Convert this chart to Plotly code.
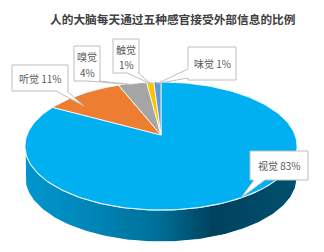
import math
import plotly.graph_objects as go

# ---- data ----
labels = ["视觉", "听觉", "嗅觉", "触觉", "味觉"]
values = [83, 11, 4, 1, 1]
title_text = "人的大脑每天通过五种感官接受外部信息的比例"

# ---- style ----
colors = ["#00B0F0", "#ED7D31", "#A5A5A5", "#FFC000", "#5B9BD5"]
side_scale = [[0.0, "#0096ce"], [0.27, "#0083b5"], [0.49, "#006f98"],
              [0.69, "#00425e"], [1.0, "#00506f"]]
W, H = 324, 252
CX, CY = 161, 135          # projected centre of the pie top
A, B, E = 62.1, 134.0, 0.172  # perspective projection params
DEPTH = 32

# label boxes: x0, x1, y0, y1, lines, wedge side, wedge base (a, b)
boxes = [
    (250, 308, 151, 180, 1, "bottom", (254, 265)),
    (12, 68, 65, 91, 1, "bottom", (56, 67)),
    (74, 100, 46, 81, 2, "bottom", (88, 99)),
    (113, 139, 39, 73, 2, "bottom", (127, 138)),
    (188, 236, 47, 80, 1, "left", (69, 78)),
]
tip_frac = [0.5, 0.26, 0.5, 0.5, 0.5]
tip_r = [1.0, 0.81, 0.97, 0.97, 0.97]


def proj(theta_deg, r=1.0, dz=0.0):
    th = math.radians(theta_deg)
    u = r * math.sin(th)
    v = r * math.cos(th)
    d = 1 + E * v
    return CX + B * u / d, CY - A * v / d + dz


fig = go.Figure()

# side (front wall)
s1 = math.degrees(math.acos(-E))
s2 = 360 - s1
n = 120
xs, ys = [], []
for i in range(n + 1):
    t = s1 + (s2 - s1) * i / n
    x, y = proj(t)
    xs.append(x); ys.append(y)
for i in range(n + 1):
    t = s2 - (s2 - s1) * i / n
    x, y = proj(t, dz=DEPTH)
    xs.append(x); ys.append(y)
xs.append(xs[0]); ys.append(ys[0])
fig.add_trace(go.Scatter(x=xs, y=ys, mode="lines", fill="toself",
                         fillgradient=dict(type="horizontal", colorscale=side_scale),
                         line=dict(color="white", width=1.2),
                         hoverinfo="skip", showlegend=False))

# top slices
total = sum(values)
start = 0.0
angles = []
for lab, val, col in zip(labels, values, colors):
    span = 360.0 * val / total
    a0, a1 = start, start + span
    angles.append((a0, a1))
    m = max(4, int(span / 1.5))
    px, py = [CX], [CY]
    for i in range(m + 1):
        x, y = proj(a0 + span * i / m)
        px.append(x); py.append(y)
    px.append(CX); py.append(CY)
    fig.add_trace(go.Scatter(x=px, y=py, mode="lines", fill="toself",
                             fillcolor=col, line=dict(color="white", width=0.8),
                             hoverinfo="skip", showlegend=False))
    start = a1

# callouts
shapes = []
annotations = []
for k, (lab, val) in enumerate(zip(labels, values)):
    x0, x1, y0, y1, nl, side, (ba, bb) = boxes[k]
    a0, a1 = angles[k]
    tx, ty = proj(a0 + (a1 - a0) * tip_frac[k], r=tip_r[k])
    if side == "bottom":
        path = (f"M {x0},{y0} L {x1},{y0} L {x1},{y1} L {bb},{y1} "
                f"L {tx:.1f},{ty:.1f} L {ba},{y1} L {x0},{y1} Z")
    else:
        path = (f"M {x0},{y0} L {x1},{y0} L {x1},{y1} L {x0},{y1} "
                f"L {x0},{bb} L {tx:.1f},{ty:.1f} L {x0},{ba} Z")
    shapes.append(dict(type="path", path=path, xref="x", yref="y",
                       fillcolor="white", line=dict(color="#bfbfbf", width=1),
                       layer="above"))
    pct = f"{val}%"
    xc = (x0 + x1) / 2
    if nl == 1:
        annotations.append(dict(x=xc, y=(y0 + y1) / 2, text=f"{lab} {pct}",
                                xref="x", yref="y", showarrow=False,
                                font=dict(size=10, color="#595959")))
    else:
        annotations.append(dict(x=xc, y=y0 + (y1 - y0) * 0.3, text=lab,
                                xref="x", yref="y", showarrow=False,
                                font=dict(size=10, color="#595959")))
        annotations.append(dict(x=xc, y=y0 + (y1 - y0) * 0.76, text=pct,
                                xref="x", yref="y", showarrow=False,
                                font=dict(size=10, color="#595959")))

annotations.append(dict(x=172, y=18, text=f"<b>{title_text}</b>", xref="x", yref="y",
                        showarrow=False,
                        font=dict(size=11.7, color="#404040",
                                  family="Noto Sans CJK SC")))

fig.update_layout(
    width=W, height=H,
    margin=dict(l=0, r=0, t=0, b=0),
    paper_bgcolor="white", plot_bgcolor="white",
    font=dict(family="Noto Sans CJK SC, Noto Sans, sans-serif"),
    xaxis=dict(range=[0, W], visible=False, fixedrange=True),
    yaxis=dict(range=[H, 0], visible=False, fixedrange=True),
    shapes=shapes, annotations=annotations, showlegend=False,
)

fig.write_html("out.html", config={"displayModeBar": False})
